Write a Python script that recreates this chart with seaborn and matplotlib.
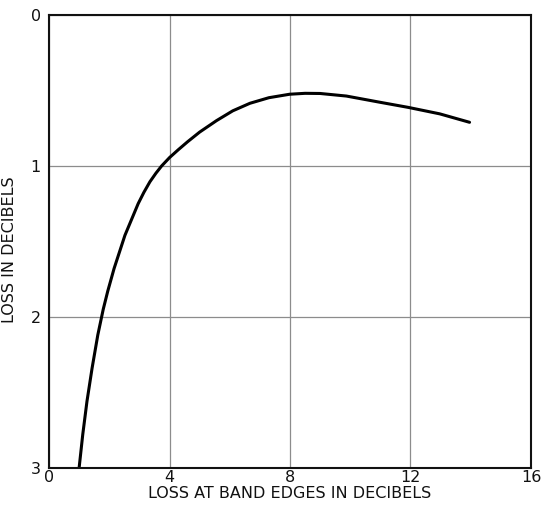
import matplotlib
matplotlib.use("Agg")
import matplotlib.pyplot as plt
import seaborn as sns
import pandas as pd

# Loss in decibels versus loss at band edges
edge_loss = [1.0, 1.12, 1.26, 1.43, 1.62, 1.80, 1.95, 2.16, 2.52, 2.96, 3.15, 3.35,
             3.55, 3.74, 4.0, 4.29, 4.6, 5.0, 5.56, 6.1, 6.67, 7.3, 7.99, 8.5, 9.0,
             9.87, 10.98, 11.92, 12.97, 13.96]
loss = [3.0, 2.78, 2.56, 2.34, 2.12, 1.95, 1.83, 1.68, 1.46, 1.25, 1.175, 1.105,
        1.048, 1.0, 0.945, 0.893, 0.84, 0.776, 0.70, 0.635, 0.585, 0.548, 0.525,
        0.519, 0.520, 0.537, 0.578, 0.612, 0.655, 0.711]

x_ticks = [0, 4, 8, 12, 16]
y_ticks = [0, 1, 2, 3]

sns.set_theme(style="white")
plt.rcParams["font.family"] = ["DejaVu Sans"]

df = pd.DataFrame({"edge": edge_loss, "loss": loss})

fig = plt.figure(figsize=(5.41, 5.07), dpi=100)
ax = fig.add_axes([0.0906, 0.0775, 0.8909, 0.8929])

sns.lineplot(data=df, x="edge", y="loss", ax=ax, color="black", linewidth=2.2,
             sort=False, estimator=None, solid_joinstyle="round",
             solid_capstyle="round")

ax.set_xlim(0, 16)
ax.set_ylim(3, 0)
ax.set_xticks(x_ticks)
ax.set_yticks(y_ticks)
ax.set_xticklabels([str(t) for t in x_ticks])
ax.set_yticklabels([str(t) for t in y_ticks])
ax.grid(True, color="#8c8c8c", linewidth=0.9)
ax.tick_params(axis="both", length=0, labelsize=11.5, colors="#111111")
ax.tick_params(axis="y", pad=6)
ax.tick_params(axis="x", pad=2)
for s in ax.spines.values():
    s.set_color("#111111")
    s.set_linewidth(1.5)

ax.set_xlabel("LOSS AT BAND EDGES IN DECIBELS", fontsize=11.5, color="#111111")
ax.set_ylabel("LOSS IN DECIBELS", fontsize=11.5, color="#111111")
ax.xaxis.set_label_coords(0.5, -0.040)
ax.yaxis.set_label_coords(-0.066, 0.481)

fig.savefig("out.png", dpi=100, facecolor="white")
